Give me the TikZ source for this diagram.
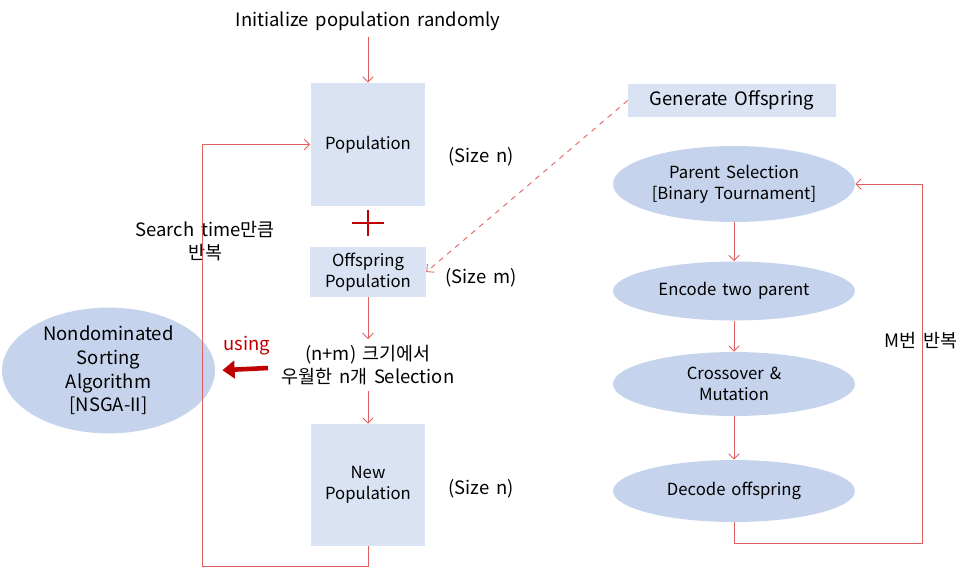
\documentclass[tikz,border=0pt]{standalone}
\usepackage{fontspec}
\setmainfont{Noto Sans CJK KR}[WordSpace=1.6]
\usetikzlibrary{arrows.meta,shapes.geometric}

\definecolor{boxblue}{HTML}{DAE3F3}
\definecolor{ellblue}{HTML}{C5D4EC}
\definecolor{linered}{HTML}{E06060}
\definecolor{darkred}{HTML}{C00000}

\newcommand*{\popx}{368}
\newcommand*{\gax}{734}

\begin{document}
\begin{tikzpicture}
[
	x=0.02cm, y=-0.02cm,
	popbox/.style={rectangle,fill=boxblue,inner sep=0pt,align=center,font=\fontsize{9.5}{12}\selectfont},
	gastep/.style={ellipse,fill=ellblue,inner sep=0pt,align=center,minimum width=4.84cm,font=\fontsize{9.5}{12}\selectfont},
	flow/.style={draw=linered,line width=0.5pt,-{Straight Barb[length=3pt,width=6pt]}},
	note/.style={align=center,yshift=-1.2pt,font=\fontsize{10.5}{13}\selectfont}
]
	\useasboundingbox (0,0) rectangle (971,576);

	% left column
	\node[note] (init) at (\popx,19) {Initialize population randomly};
	\node[popbox,minimum width=2.3cm,minimum height=2.46cm] (pop) at (\popx,144.5) {Population};
	\node[popbox,minimum width=2.32cm,minimum height=1cm] (offsp) at (\popx,272) {Offspring\\Population};
	\node[note] (sel) at (\popx,363) {(n+m) 크기에서\\우월한 n개 Selection};
	\node[popbox,minimum width=2.3cm,minimum height=2.44cm] (newpop) at (\popx,485) {New\\Population};
	\node[note] (sizea) at (481,155) {(Size n)};
	\node[note] (sizeb) at (481,276) {(Size m)};
	\node[note] (sizec) at (481,487) {(Size n)};
	\node[note] (search) at (205,239) {Search time만큼\\반복};

	% plus
	\coordinate (plus) at (\popx,223);
	\draw[darkred,line width=0.6pt] (plus) ++(-16,0) -- ++(32,0);
	\draw[darkred,line width=0.6pt] (plus) ++(0,-13) -- ++(0,26);

	% nondominated sorting
	\node[ellipse,fill=ellblue,inner sep=0pt,minimum width=4.26cm,minimum height=2.1cm,align=center,font=\fontsize{10.5}{13.5}\selectfont] (nsga) at (108.5,370.5) {Nondominated\\Sorting\\Algorithm\\{}[NSGA-II]};
	\coordinate (usestart) at (268,368);
	\draw[darkred,line width=2.6pt,-{Triangle[length=7pt,width=10pt]},shorten >=4pt] (usestart) -- (nsga.east);
	\node[note,text=darkred] (using) at (247,344) {using};

	% left flow
	\draw[flow] (init.south) -- (pop.north);
	\draw[flow] (offsp.south) -- (sel.north);
	\draw[flow] (sel.south) -- (newpop.north);
	\coordinate (loopbl) at (202,566);
	\draw[flow] (newpop.south) |- (loopbl) |- (pop.west);

	% right column
	\node[popbox,minimum width=4.16cm,minimum height=0.66cm,font=\fontsize{10.5}{13}\selectfont] (genoff) at (732,100.5) {Generate Offspring};
	\node[gastep,minimum height=1.52cm] (parent) at (\gax,184) {Parent Selection\\{}[Binary Tournament]};
	\node[gastep,minimum height=1.18cm] (encode) at (\gax,291) {Encode two parent};
	\node[gastep,minimum height=1.28cm] (cross) at (\gax,384) {Crossover \&\\Mutation};
	\node[gastep,minimum height=1.24cm] (decode) at (\gax,491) {Decode offspring};
	\node[note] (mloop) at (921,338) {M번 반복};

	% right flow
	\draw[flow,dashed] (genoff.west) -- (offsp.east);
	\draw[flow] (parent.south) -- (encode.north);
	\draw[flow] (encode.south) -- (cross.north);
	\draw[flow] (cross.south) -- (decode.north);
	\coordinate (loopbr) at (922,543);
	\draw[flow] (decode.south) |- (loopbr) |- (parent.east);

\end{tikzpicture}
\end{document}
